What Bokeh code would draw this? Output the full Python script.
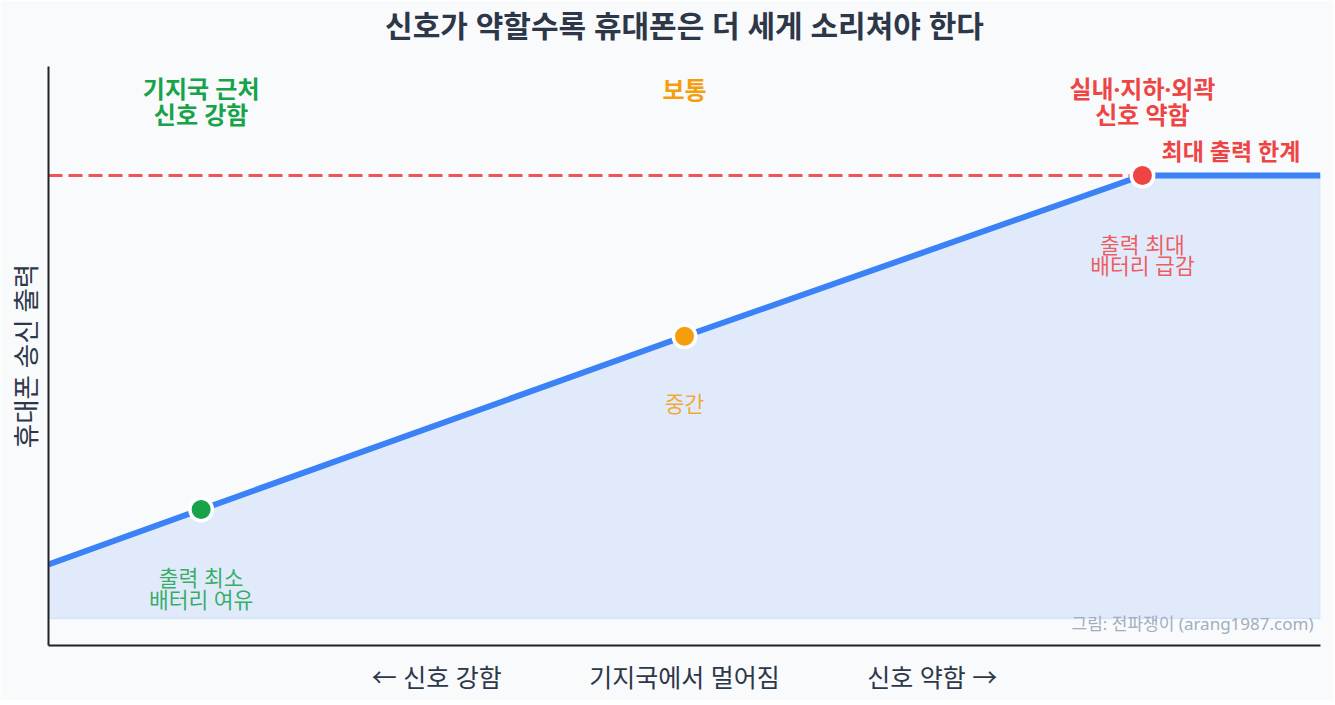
from bokeh.plotting import figure
from bokeh.models import Range1d, FixedTicker, LinearAxis
from bokeh.core.properties import value
from bokeh.embed import file_html
from bokeh.resources import INLINE

FONT = "'Noto Sans', 'Noto Sans CJK KR', sans-serif"

# ---- data ----
distance = [0, 12, 50, 86, 100]          # distance from base station (relative)
tx_power = [12.2, 24.6, 63.7, 100, 100]  # phone transmit power (relative)
max_power = 100

point_x = [12, 50, 86]
point_y = [24.6, 63.7, 100]
point_colors = ["#16a34a", "#f59e0b", "#ef4444"]

zone_labels = ["기지국 근처", "신호 강함", "보통", "실내·지하·외곽", "신호 약함"]
zone_x = [12, 12, 50, 86, 86]
zone_y = [119.6, 113.7, 119.3, 119.6, 113.7]
zone_colors = ["#16a34a", "#16a34a", "#f59e0b", "#ef4444", "#ef4444"]

note_labels = ["출력 최소", "배터리 여유", "중간", "출력 최대", "배터리 급감"]
note_x = [12, 12, 50, 86, 86]
note_y = [9.2, 4.3, 48.5, 84.5, 79.6]
note_colors = ["#16a34a", "#16a34a", "#f59e0b", "#ef4444", "#ef4444"]

limit_label = "최대 출력 한계"
limit_x, limit_y = 92.96, 105.6
credit = "그림: 전파쟁이 (arang1987.com)"
credit_x, credit_y = 99.45, -1.2
title_text = "신호가 약할수록 휴대폰은 더 세게 소리쳐야 한다"
GAP = "\u2003\u2003\u2003\u2002"
xlabel = "← 신호 강함" + GAP + "기지국에서 멀어짐" + GAP + "신호 약함 →"
ylabel = "휴대폰 송신 출력"

BG = "#f8fafc"

p = figure(width=1333, height=700, output_backend="svg", toolbar_location=None,
           x_range=Range1d(0, 100), y_range=Range1d(-6.1, 124.6),
           min_border_left=48, min_border_right=13, min_border_top=66, min_border_bottom=55)
p.background_fill_color = BG
p.border_fill_color = BG
p.outline_line_color = None
p.grid.visible = False

bottom_axis = p.below[0]
left_axis = p.left[0]

for ax in (bottom_axis, left_axis):
    ax.ticker = FixedTicker(ticks=[])
    ax.major_tick_line_color = None
    ax.minor_tick_line_color = None
    ax.axis_line_color = "#222222"
    ax.axis_line_width = 2
    ax.axis_label_text_font = FONT
    ax.axis_label_text_font_style = "normal"
    ax.axis_label_text_color = "#2d3748"
bottom_axis.axis_label = xlabel
bottom_axis.axis_label_text_font_size = "25px"
bottom_axis.axis_label_standoff = 14
left_axis.axis_label = ylabel
left_axis.axis_label_text_font_size = "26.5px"
left_axis.axis_label_standoff = 5

# title drawn as the label of an empty top axis (keeps the plot frame where it belongs)
top_axis = LinearAxis(ticker=FixedTicker(ticks=[]), axis_line_color=None,
                      major_tick_line_color=None, minor_tick_line_color=None,
                      axis_label=title_text, axis_label_standoff=21,
                      axis_label_text_font=FONT, axis_label_text_font_size="30px",
                      axis_label_text_font_style="bold", axis_label_text_color="#2d3748")
p.add_layout(top_axis, "above")

# fill under curve
p.patch(x=distance + [distance[-1], distance[0]], y=tx_power + [0, 0],
        fill_color="#3b82f6", fill_alpha=0.13, line_color="#3b82f6", line_alpha=0.12, line_width=1.5)

# max power dashed line
p.line(x=[0, point_x[-1]], y=[max_power, max_power], line_color="#ef4444", line_alpha=0.9,
       line_width=3, line_dash="14 6")

# power curve
p.line(x=distance, y=tx_power, line_color="#3b82f6", line_width=6)

# points
p.scatter(x=point_x, y=point_y, size=22.5, fill_color=point_colors, line_color="white", line_width=3.5)

# zone labels
p.text(x=zone_x, y=zone_y, text=zone_labels, text_color=zone_colors, text_font=value(FONT),
       text_font_size="24px", text_font_style="bold", text_align="center", text_baseline="middle")

# notes
p.text(x=note_x, y=note_y, text=note_labels, text_color=note_colors, text_alpha=0.85,
       text_font=value(FONT), text_font_size="21.5px", text_align="center", text_baseline="middle")

# limit label
p.text(x=[limit_x], y=[limit_y], text=[limit_label], text_color="#ef4444", text_font=value(FONT),
       text_font_size="23px", text_font_style="bold", text_align="center", text_baseline="middle")

# credit
p.text(x=[credit_x], y=[credit_y], text=[credit], text_color="#a0aec0", text_font=value(FONT),
       text_font_size="17px", text_align="right", text_baseline="middle")

open("out.html", "w").write(file_html(p, INLINE))
